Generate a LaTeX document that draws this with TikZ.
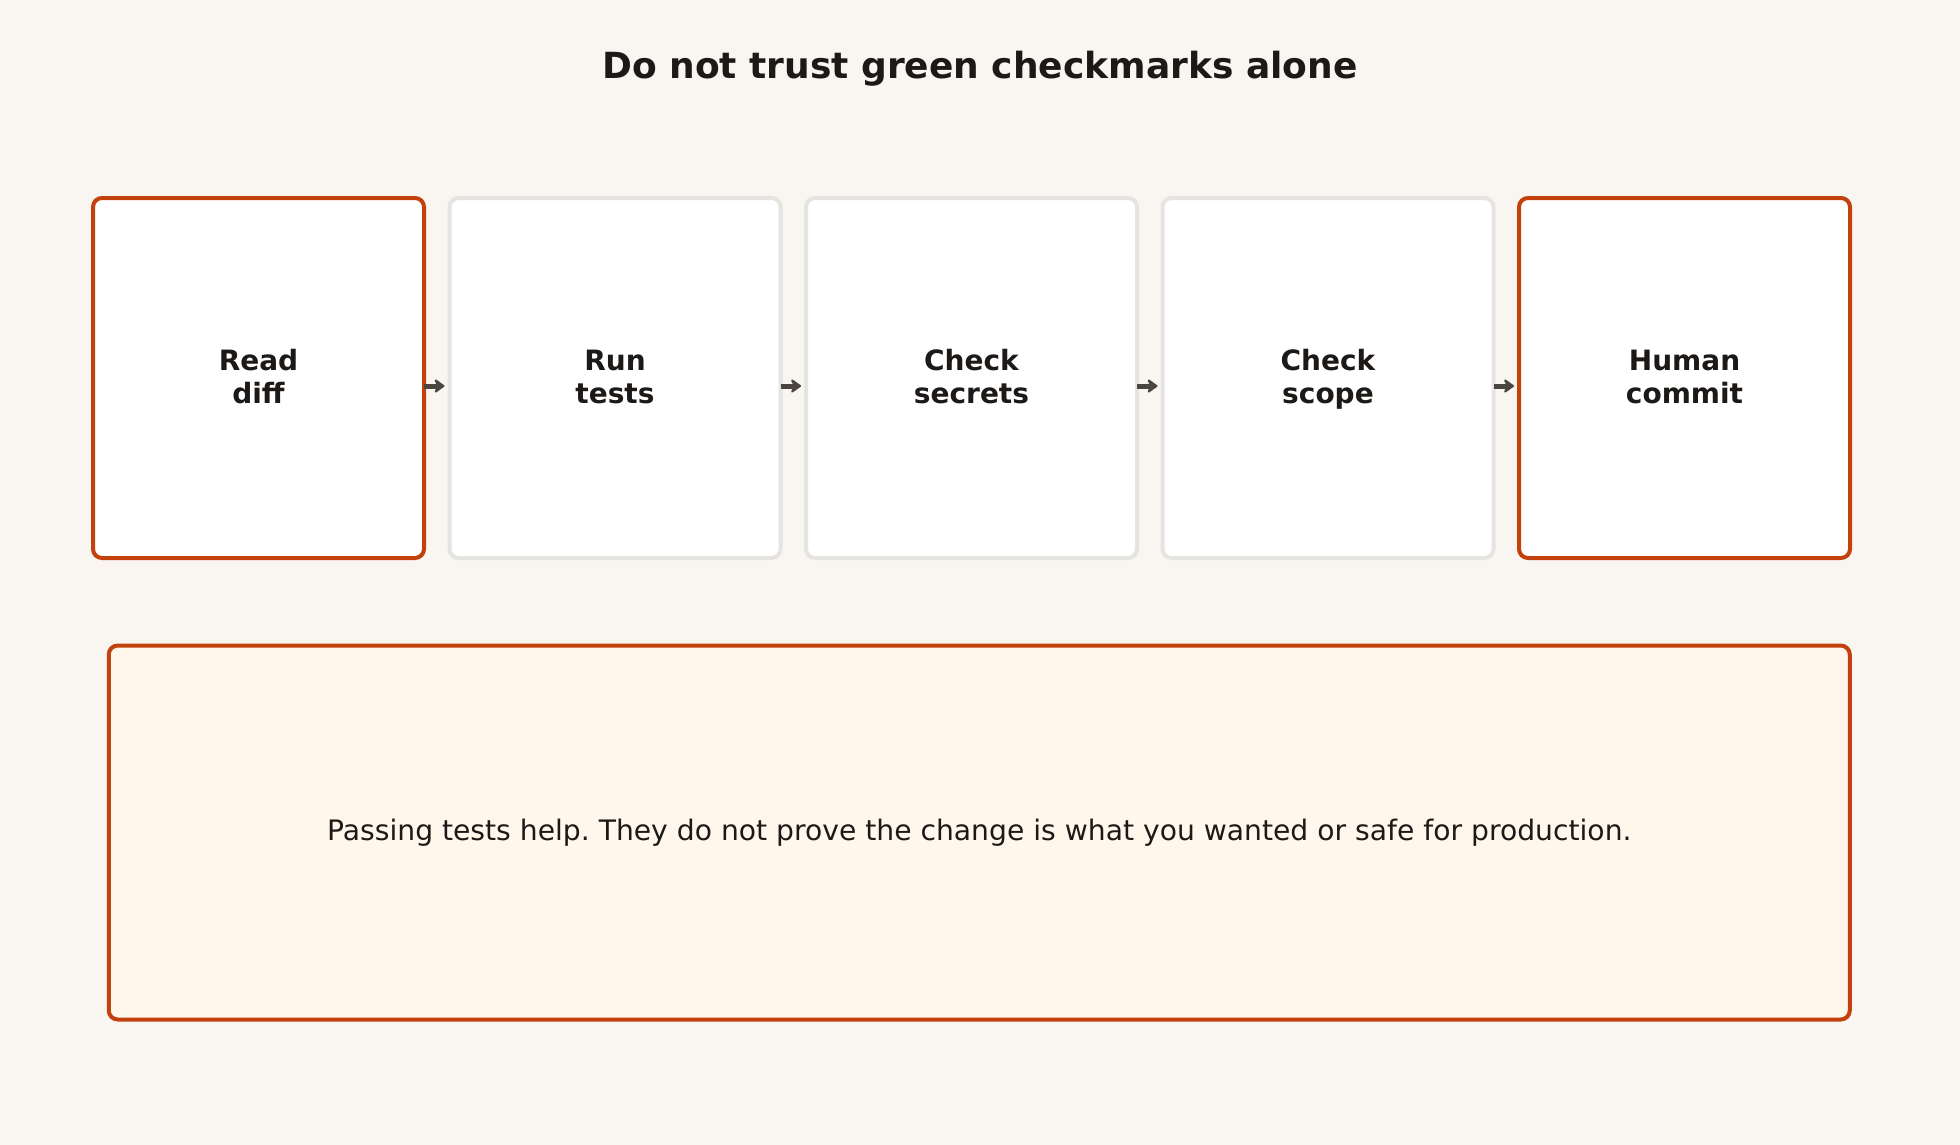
\documentclass[tikz,border=0pt]{standalone}
\usepackage{fontspec}
\setmainfont{DejaVu Sans}
\usetikzlibrary{arrows.meta}
\definecolor{bgc}{HTML}{F9F6F2}
\definecolor{accent}{HTML}{C2410C}
\definecolor{grayline}{HTML}{E6E4E1}
\definecolor{notefill}{HTML}{FFF7EC}
\definecolor{txt}{HTML}{1C1917}
\definecolor{arr}{HTML}{4A4541}
\newcommand{\topstrut}{\rule{0pt}{28pt}}
\tikzset{
  stepbox/.style={draw=grayline, line width=4pt, fill=white, rounded corners=9pt,
    minimum width=331pt, minimum height=360pt, inner sep=0pt, outer sep=0pt,
    align=center, text=txt,
    font=\fontsize{28}{33}\selectfont\bfseries},
  keybox/.style={stepbox, draw=accent},
  notebox/.style={draw=accent, line width=4pt, fill=notefill, rounded corners=9pt,
    minimum width=1741pt, minimum height=374pt, inner sep=0pt, outer sep=0pt,
    text=txt, font=\fontsize{28.2}{33}\selectfont},
  flow/.style={draw=arr, line width=5pt, -{Stealth[length=12pt,width=17pt,inset=4pt,round]},
    shorten >=5pt},
}
\begin{document}
\begin{tikzpicture}[x=1pt,y=-1pt]
\frenchspacing
\fill[bgc] (0,0) rectangle (1960,1145);
\useasboundingbox (0,0) rectangle (1960,1145);
\node[text=txt, font=\fontsize{36}{42}\selectfont\bfseries] (title) at (980,68.5) {Do not trust green checkmarks alone};
\node[keybox]  (s1) at (258.5,378) {\topstrut Read\\\strut diff};
\node[stepbox] (s2) at (615,378) {\topstrut Run\\\strut tests};
\node[stepbox] (s3) at (971.5,378) {\topstrut Check\\\strut secrets};
\node[stepbox] (s4) at (1328,378) {\topstrut Check\\\strut scope};
\node[keybox]  (s5) at (1684.5,378) {\topstrut Human\\\strut commit};
\node[notebox] (note) at (979.25,832.5) {Passing tests help. They do not prove the change is what you wanted or safe for production.};
\foreach \a/\b in {s1/s2,s2/s3,s3/s4,s4/s5}{
  \draw[flow] ([yshift=-8pt]\a.east) -- ([yshift=-8pt]\b.west);
}
\end{tikzpicture}
\end{document}
